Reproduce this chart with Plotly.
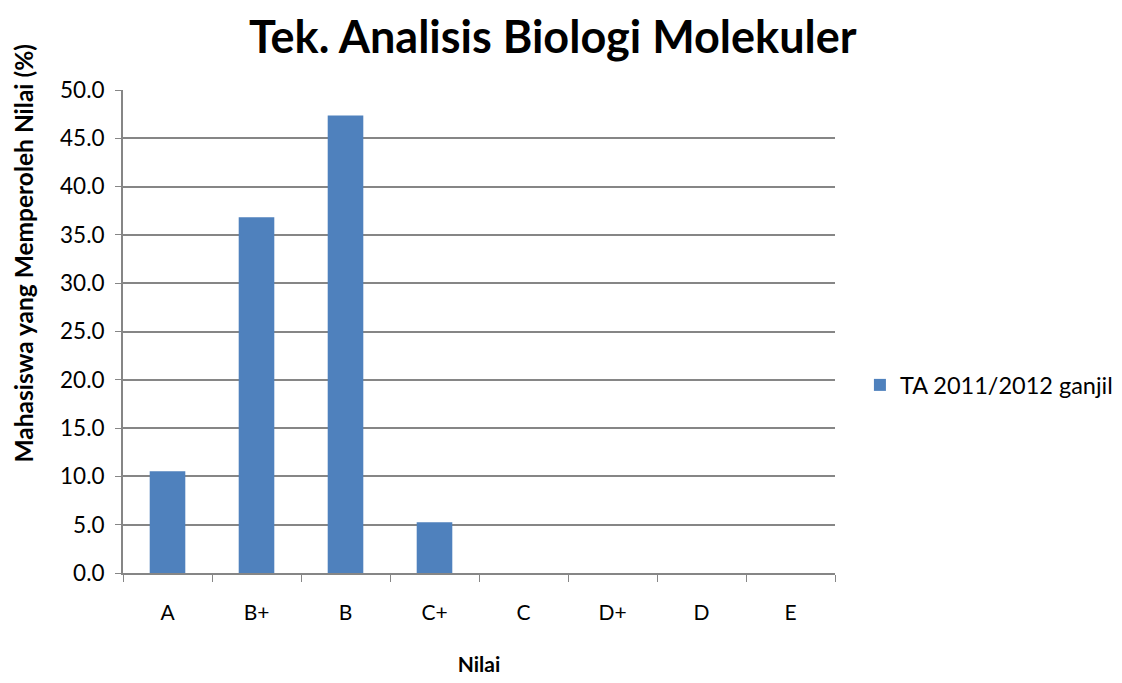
import plotly.graph_objects as go

categories = ['A', 'B+', 'B', 'C+', 'C', 'D+', 'D', 'E']
values = [10.53, 36.84, 47.37, 5.26, 0.0, 0.0, 0.0, 0.0]
series_name = 'TA 2011/2012 ganjil'
y_ticks = [0, 5, 10, 15, 20, 25, 30, 35, 40, 45, 50]

_font = 'Lato, Open Sans, sans-serif'
_grid = '#868686'

fig = go.Figure()
fig.add_trace(go.Bar(x=categories, y=values, name=series_name,
                     marker=dict(color='#4f81bd', line=dict(width=0)),
                     showlegend=True))

# page body has an 8px margin, so the figure is sized/shifted to compensate
fig.update_layout(
    width=1114, height=675,
    paper_bgcolor='white', plot_bgcolor='white',
    font=dict(family=_font, color='black', size=17),
    title=dict(text='<b>Tek. Analisis Biologi Molekuler</b>', x=0.489, xref='container',
               xanchor='center', y=0.957, yanchor='middle',
               font=dict(size=45, family=_font)),
    margin=dict(l=115, r=287, t=82, b=110, autoexpand=False),
    bargap=0.6,
    showlegend=True,
    legend=dict(x=1.035, y=0.389, xanchor='left', yanchor='middle',
                font=dict(size=23.5), itemwidth=30),
    xaxis=dict(showline=True, linecolor=_grid, linewidth=2,
               ticks='outside', tickson='boundaries', ticklen=7, tickcolor=_grid,
               tickfont=dict(size=21), showgrid=False, ticklabelstandoff=20,
               title=dict(text='<b>Nilai</b>', font=dict(size=21), standoff=34)),
    yaxis=dict(range=[0, 50], tickvals=y_ticks,
               ticktext=[f'{v:.1f}' for v in y_ticks],
               showline=True, linecolor=_grid, linewidth=2,
               ticks='outside', ticklen=6, tickcolor=_grid,
               showgrid=True, gridcolor=_grid, gridwidth=1.5,
               zeroline=False, tickfont=dict(size=22.5), ticklabelstandoff=6),
    annotations=[dict(text='<b>Mahasiswa yang Memperoleh Nilai (%)</b>',
                      xref='paper', yref='paper', x=-0.141, y=0.6625,
                      xanchor='center', yanchor='middle', textangle=-90,
                      showarrow=False, font=dict(size=24.5))],
)

fig.write_html('out.html')
